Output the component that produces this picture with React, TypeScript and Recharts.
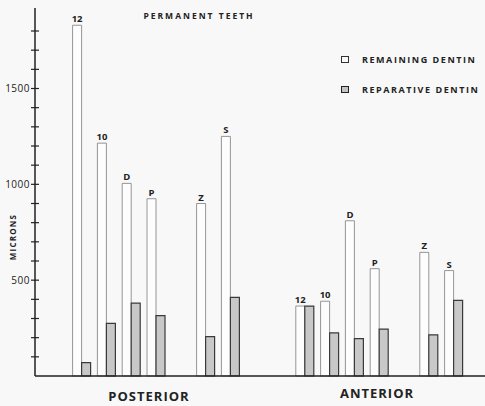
import { Bar, BarChart, LabelList, XAxis, YAxis } from "recharts";

const toothLabels = ["12", "10", "D", "P", "Z", "S"];
const posteriorRemaining = [1830, 1215, 1005, 925, 900, 1250];
const posteriorReparative = [70, 275, 380, 315, 205, 410];
const anteriorRemaining = [365, 390, 810, 560, 645, 550];
const anteriorReparative = [365, 225, 195, 245, 215, 395];
const yTicks = [100, 200, 300, 400, 500, 600, 700, 800, 900, 1000, 1100, 1200, 1300, 1400, 1500, 1600, 1700, 1800];
const labelledTicks = [500, 1000, 1500];

type Row = { key: string; tooth?: string; remaining?: number; reparative?: number };

const rows: Row[] = [];
function pushGroup(group: string, remaining: number[], reparative: number[]) {
  toothLabels.forEach((tooth, i) => {
    // the last two teeth of each group stand apart
    if (i === 4) rows.push({ key: `${group}-gap` });
    rows.push({ key: `${group}-${tooth}`, tooth, remaining: remaining[i], reparative: reparative[i] });
  });
}
pushGroup("posterior", posteriorRemaining, posteriorReparative);
rows.push({ key: "between-1" }, { key: "between-2" });
pushGroup("anterior", anteriorRemaining, anteriorReparative);

const font = "'Open Sans', 'Liberation Sans', sans-serif";
const ink = "#222";

function YTick({ x, y, payload }: { x: number; y: number; payload: { value: number } }) {
  return (
    <g>
      <line x1={x - 4} x2={x + 4} y1={y} y2={y} stroke={ink} strokeWidth={1.2} />
      {labelledTicks.includes(payload.value) ? (
        <text x={x - 5} y={y} dy={3.5} textAnchor="end" fontSize={10} fontFamily={font} fill={ink} letterSpacing={0.5}>
          {payload.value}
        </text>
      ) : null}
    </g>
  );
}

function LegendItem({ label, fill, stroke, sw, top }: { label: string; fill: string; stroke: string; sw: number; top: number }) {
  return (
    <div style={{ position: "absolute", left: 341, top, display: "flex", alignItems: "center", height: 12 }}>
      <span
        style={{
          display: "inline-block",
          width: 6,
          height: 5,
          background: fill,
          border: `${sw}px solid ${stroke}`,
          marginRight: 13
        }}
      />
      <span style={{ fontSize: 9, fontWeight: 700, letterSpacing: 1.55, color: ink, fontFamily: font, whiteSpace: "nowrap" }}>
        {label}
      </span>
    </div>
  );
}

const overlay = (text: string, left: number, top: number, size: number, spacing: number, extra = {}) => (
  <div
    style={{
      position: "absolute",
      left,
      top,
      transform: "translate(-50%, -50%)",
      fontFamily: font,
      fontWeight: 700,
      fontSize: size,
      letterSpacing: spacing,
      color: ink,
      whiteSpace: "nowrap",
      ...extra
    }}
  >
    {text}
  </div>
);

export default function App() {
  return (
    <div style={{ position: "fixed", left: 0, top: 0, width: 485, height: 406, background: "#f8f8f8", overflow: "hidden" }}>
      <BarChart
        width={485}
        height={406}
        data={rows}
        margin={{ top: 8, right: 0, bottom: 29, left: 34 }}
        barGap={0}
        barSize={9}
      >
        <XAxis
          dataKey="key"
          height={1}
          tick={false}
          tickLine={false}
          axisLine={{ stroke: ink, strokeWidth: 1.5 }}
          padding={{ left: 34.6, right: 18.6 }}
        />
        <YAxis
          type="number"
          width={1}
          domain={[0, 1920]}
          ticks={yTicks}
          tick={YTick}
          tickSize={0}
          tickMargin={0}
          tickLine={false}
          axisLine={{ stroke: ink, strokeWidth: 1.5 }}
          interval={0}
        />
        <Bar dataKey="remaining" fill="#fdfdfd" stroke="#8a8a8a" strokeWidth={0.9} isAnimationActive={false}>
          <LabelList dataKey="tooth" position="top" offset={3} fontSize={9.5} fontWeight={700} fontFamily={font} fill={ink} />
        </Bar>
        <Bar dataKey="reparative" fill="#c8c8c8" stroke="#3a3a3a" strokeWidth={1.2} isAnimationActive={false} />
      </BarChart>
      <LegendItem label="REMAINING DENTIN" fill="#fafafa" stroke="#333" sw={1} top={53} />
      <LegendItem label="REPARATIVE DENTIN" fill="#c4c4c4" stroke="#222" sw={1.5} top={83} />
      {overlay("PERMANENT TEETH", 199, 15, 8.5, 2)}
      {overlay("MICRONS", 12, 237, 8, 1.2, { transform: "translate(-50%, -50%) rotate(-90deg)" })}
      {overlay("POSTERIOR", 149, 396, 13, 1)}
      {overlay("ANTERIOR", 377, 393, 13, 1)}
    </div>
  );
}
